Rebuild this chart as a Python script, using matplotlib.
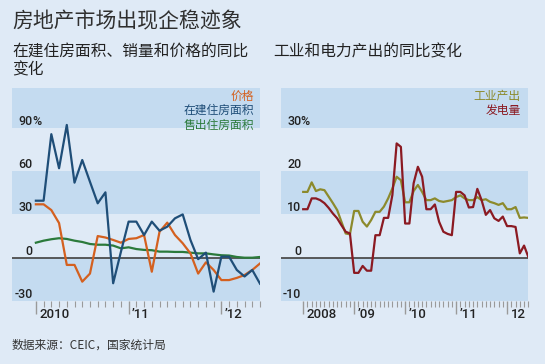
import numpy as np
import matplotlib.pyplot as plt
import matplotlib.transforms as mtransforms

plt.rcParams['font.family'] = ['Noto Sans CJK SC', 'DejaVu Sans']

# left panel: monthly, Jan 2010 - Jun 2012, % change on a year earlier
price = [37, 37, 33, 24, -5, -5, -16.6, -11, 15, 14, 12.3, 10.4, 13, 13.5, 15.7,
         -9.7, 18, 24.3, 15.7, 10, 3, -11, -3.2, -8.5, -15.5, -15.5, -14, -12, -8.5, -4]
under_construction = [39.5, 39.5, 85.6, 62, 92, 52, 67.7, 52.6, 37.7, 45.3, -17.7, 4,
                      25, 25, 15.7, 25, 18.7, 21.5, 27.3, 30, 12.3, -1, 3.5, -23.5,
                      0.7, 0.7, -8.5, -13, -8.5, -18]
sold = [10.4, 11.8, 12.8, 13.5, 13, 11.8, 10.9, 9.5, 9, 9, 8.4, 6.5, 7.2, 6, 5.4,
        5.2, 4.2, 4.2, 4, 4, 3.5, 3, 3, 2.3, 1.7, 1.5, 0.5, 0, 0, 0.5]

# right panel: monthly, Jan 2008 - Jun 2012
industrial = [15.2, 15.2, 17.4, 15.4, 15.8, 15.6, 14.1, 12.6, 11, 8.3, 5.6, 5.4,
              10.8, 10.8, 8.3, 7.2, 8.7, 10.6, 10.6, 11.8, 13.7, 16, 18.7, 17.9,
              12.8, 12.8, 15.4, 16.8, 15.2, 13.3, 13.3, 13.7, 13.1, 12.9, 13.1, 13.3,
              14, 14.4, 13.7, 13.3, 13.3, 14, 13.3, 13.5, 12.9, 12.6, 12.2, 12.6,
              11.2, 11.2, 11.7, 9.2, 9.3, 9.2]
power = [11.2, 11.2, 13.7, 13.7, 13.3, 12.6, 11.5, 10.2, 9.1, 7.5, 6, 5.6,
         -3.5, -3.5, -1.9, -3, -3, 5.2, 5.2, 9.2, 9.2, 14.5, 26.4, 25.6,
         7.9, 7.9, 17.2, 21, 18.7, 11.2, 11.2, 12.3, 8.3, 6, 5.5, 5.2,
         15.2, 15.2, 14.4, 11.6, 11.7, 15.9, 13.3, 9.9, 11, 9.1, 8.5, 9.5,
         7.3, 7.3, 7.1, 1, 2.8, 0.2]

left_ticklabels = ['2010', '\u201911', '\u201912']
right_ticklabels = ['2008', '\u201909', '\u201910', '\u201911', '12']

W, H = 545, 364
bg = '#dfeaf6'
band = '#c4dbf0'
c_price, c_build, c_sold = '#d4601f', '#1f4e78', '#2b7a3b'
c_ind, c_pow = '#8c8a2c', '#8b1a22'
numfont = dict(family='Roboto', weight='medium', color='#222222')

fig = plt.figure(figsize=(W / 100, H / 100), dpi=100, facecolor=bg)


def px_axes(x0, x1, y0, y1):
    return fig.add_axes([x0 / W, 1 - y1 / H, (x1 - x0) / W, (y1 - y0) / H])


def setup(ax, n, xlim, ylim, bands, grid, ticklabels, pct_top):
    ax.set_facecolor(bg)
    for s in ax.spines.values():
        s.set_visible(False)
    ax.set_xlim(*xlim)
    ax.set_ylim(*ylim)
    for lo, hi in bands:
        ax.axhspan(lo, hi, color=band, lw=0, zorder=0)
    ax.axhline(0, color='#4d4d4d', lw=1.3, zorder=2)
    ax.set_yticks([])
    ax.set_xticks(range(n), minor=True)
    ax.set_xticks(range(0, n, 12))
    ax.set_xticklabels([])
    ax.tick_params(axis='x', which='minor', length=4.3, width=0.8, color='#9a9a9a')
    ax.tick_params(axis='x', which='major', length=9.5, width=1.0, color='#9a9a9a')
    trans = mtransforms.blended_transform_factory(ax.transData, ax.transAxes)
    trans = mtransforms.offset_copy(trans, fig=fig, x=3.5, y=0, units='dots')
    for i, lab in enumerate(ticklabels):
        ax.text(i * 12, -0.062, lab, transform=trans, ha='left', va='center',
                fontsize=9.5, **numfont)
    ytrans = mtransforms.blended_transform_factory(ax.transAxes, ax.transData)
    for v in grid:
        ax.text(0.083, v, str(v), transform=ytrans, ha='right', va='bottom',
                fontsize=9, **numfont)
    ptrans = mtransforms.offset_copy(ytrans, fig=fig, x=-0.5, y=0, units='dots')
    ax.text(0.083, pct_top, '%', transform=ptrans, ha='left', va='bottom',
            fontsize=9, **numfont)


# left panel
ax1 = px_axes(12.3, 260, 88, 301)
setup(ax1, len(price), (-3.05, 29), (-30, 117.6),
      [(90, 130), (30, 60), (-30, 0)], [90, 60, 30, 0, -30], left_ticklabels, 90)
x1 = np.arange(len(price))
ax1.plot(x1, sold, color=c_sold, lw=1.6, zorder=3)
ax1.plot(x1, price, color=c_price, lw=1.6, zorder=4)
ax1.plot(x1, under_construction, color=c_build, lw=1.6, zorder=5)

# right panel
ax2 = px_axes(280.7, 528.3, 88, 301)
setup(ax2, len(industrial), (-5.3, 53), (-10, 39.2),
      [(30, 45), (10, 20), (-10, 0)], [30, 20, 10, 0, -10], right_ticklabels, 30)
x2 = np.arange(len(industrial))
ax2.plot(x2, industrial, color=c_ind, lw=1.6, zorder=3)
ax2.plot(x2, power, color=c_pow, lw=1.6, zorder=4)

# legends as coloured labels
fig.text(254 / W, 1 - 96 / H, '价格', color=c_price, fontsize=8.5, ha='right', va='center')
fig.text(254 / W, 1 - 110.5 / H, '在建住房面积', color=c_build, fontsize=8.5, ha='right', va='center')
fig.text(254 / W, 1 - 125 / H, '售出住房面积', color=c_sold, fontsize=8.5, ha='right', va='center')
fig.text(520.7 / W, 1 - 96.3 / H, '工业产出', color=c_ind, fontsize=8.5, ha='right', va='center')
fig.text(520.7 / W, 1 - 110.7 / H, '发电量', color=c_pow, fontsize=8.5, ha='right', va='center')

# titles
fig.text(12 / W, 1 - 21 / H, '房地产市场出现企稳迹象', fontsize=15, color='#2f2f2f',
         ha='left', va='center')
fig.text(12 / W, 1 - 51.5 / H, '在建住房面积、销量和价格的同比', fontsize=11.3,
         color='#222222', ha='left', va='center')
fig.text(12 / W, 1 - 70 / H, '变化', fontsize=11.3, color='#222222', ha='left', va='center')
fig.text(273 / W, 1 - 51.5 / H, '工业和电力产出的同比变化', fontsize=11.3,
         color='#222222', ha='left', va='center')
fig.text(12 / W, 1 - 345 / H, '数据来源：CEIC，国家统计局', fontsize=8.5,
         color='#333333', ha='left', va='center')

fig.savefig('out.png', dpi=100, facecolor=bg)
